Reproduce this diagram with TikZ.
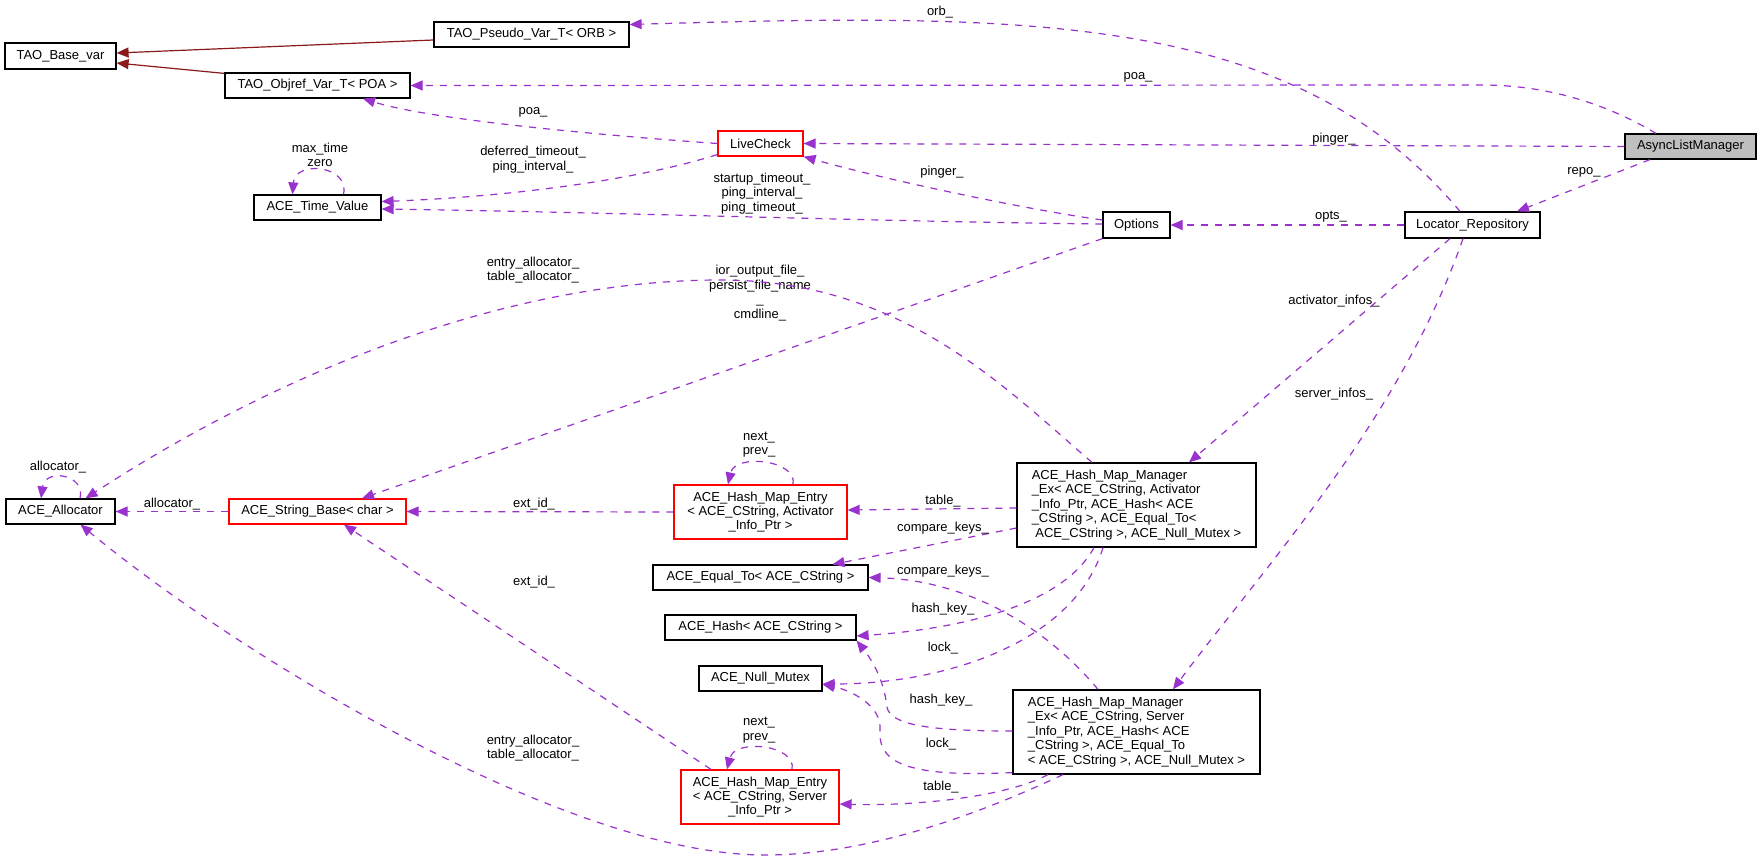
\documentclass[tikz,border=0pt]{standalone}
\usepackage{fontspec}
\setmainfont{Liberation Sans}
\usetikzlibrary{arrows.meta,calc}
\definecolor{edgec}{HTML}{9A32CD}
\definecolor{inhc}{HTML}{8B1A1A}
\definecolor{almfill}{HTML}{BFBFBF}
\newcommand\dfont{\fontsize{13}{14.5}\selectfont}
\begin{document}
\begin{tikzpicture}[x=1pt,y=-1pt]
\tikzset{
 cbox/.style={draw=black, line width=1.2pt, inner sep=0pt, font=\dfont},
 rbox/.style={cbox, draw=red},
 mem/.style={draw=edgec, line width=1.2pt, dash pattern=on 7pt off 7pt, -{Triangle[length=12pt,width=10pt]}},
 inh/.style={draw=inhc, line width=1.2pt, -{Triangle[length=12pt,width=10pt]}},
 elab/.style={font=\dfont, inner sep=0pt, align=center}
}
\fill[white] (0,0) rectangle (1761,862);
\useasboundingbox (0,0) rectangle (1761,862);

% nodes
\node[cbox, minimum width=111pt, minimum height=26pt] (base) at (60.5,56) {TAO\_Base\_var};
\node[cbox, minimum width=195pt, minimum height=25pt] (pseudo) at (531.5,34.5) {TAO\_Pseudo\_Var\_T< ORB >};
\node[cbox, minimum width=185pt, minimum height=25pt] (objref) at (317.5,85.5) {TAO\_Objref\_Var\_T< POA >};
\node[cbox, minimum width=127pt, minimum height=25pt] (timev) at (317.5,207.5) {ACE\_Time\_Value};
\node[rbox, minimum width=85pt, minimum height=25pt] (live) at (760.5,143.5) {LiveCheck};
\node[cbox, minimum width=67pt, minimum height=26pt] (opts) at (1136.5,225) {Options};
\node[cbox, minimum width=135pt, minimum height=26pt] (locrep) at (1472.5,225) {Locator\_Repository};
\node[cbox, fill=almfill, minimum width=131pt, minimum height=25pt] (alm) at (1690.5,146.5) {AsyncListManager};
\node[cbox, minimum width=239pt, minimum height=84pt, align=left] (hmma) at (1136.5,505) {ACE\_Hash\_Map\_Manager\\\_Ex< ACE\_CString, Activator\\\_Info\_Ptr, ACE\_Hash< ACE\\\_CString >, ACE\_Equal\_To<\\\hspace*{3.6pt}ACE\_CString >, ACE\_Null\_Mutex >};
\node[cbox, minimum width=247pt, minimum height=84pt, align=left] (hmms) at (1136.5,732) {ACE\_Hash\_Map\_Manager\\\_Ex< ACE\_CString, Server\\\_Info\_Ptr, ACE\_Hash< ACE\\\_CString >, ACE\_Equal\_To\\< ACE\_CString >, ACE\_Null\_Mutex >};
\node[rbox, minimum width=173pt, minimum height=54pt, align=center, font=\fontsize{13}{14}\selectfont] (hmea) at (760.5,512) {ACE\_Hash\_Map\_Entry\\< ACE\_CString, Activator\\\_Info\_Ptr >};
\node[rbox, minimum width=158pt, minimum height=54pt, align=center, font=\fontsize{13}{14}\selectfont] (hmes) at (760,797) {ACE\_Hash\_Map\_Entry\\< ACE\_CString, Server\\\_Info\_Ptr >};
\node[cbox, minimum width=215pt, minimum height=25pt] (equal) at (760.5,577.5) {ACE\_Equal\_To< ACE\_CString >};
\node[cbox, minimum width=191pt, minimum height=25pt] (hash) at (760.5,627.5) {ACE\_Hash< ACE\_CString >};
\node[cbox, minimum width=123pt, minimum height=25pt] (mutex) at (760.5,678.5) {ACE\_Null\_Mutex};
\node[cbox, minimum width=109pt, minimum height=25pt] (alloc) at (60.5,511.5) {ACE\_Allocator};
\node[rbox, minimum width=177pt, minimum height=25pt] (strb) at (317.5,511.5) {ACE\_String\_Base< char >};

% inheritance
\draw[inh] ($(pseudo.west)+(0,5.5)$) -- ($(base.east)+(0,-3)$);
\draw[inh] ($(objref.north west)+(0,1)$) -- ($(base.east)+(0,7)$);

% members
\draw[mem] ($(locrep.north)+(-12.5,0)$) .. controls (1293,12) and (1031,13) .. ($(pseudo.east)+(0,-10)$);
\node[elab] (l-orb) at (940,12) {orb\_};

\draw[mem] ($(alm.north)+(-34.5,0)$) .. controls (1600,100) and (1540,85) .. (1482,85) -- (objref.east);
\node[elab] (l-poa1) at (1138,77) {poa\_};

\draw[mem] (alm.west) -- (live.east);
\node[elab] (l-ping1) at (1334,139) {pinger\_};

\draw[mem] ($(alm.south)+(-40.5,0)$) -- ($(locrep.north)+(44.5,0)$);
\node[elab] (l-repo) at (1584,172) {repo\_};

\draw[mem] (locrep.west) -- (opts.east);
\node[elab] (l-opts) at (1331,217) {opts\_};

\draw[mem] ($(locrep.south)+(-22.5,0)$) -- ($(hmma.north)+(52.5,0)$);
\node[elab] (l-act) at (1334,301) {activator\_infos\_};

\draw[mem] ($(locrep.south)+(-9.5,0)$) .. controls (1400,420) and (1262,570) .. ($(hmms.north)+(36.5,0)$);
\node[elab] (l-srv) at (1334,394) {server\_infos\_};

\draw[mem] ($(opts.west)+(0,-5)$) .. controls (1023,209) and (883,179) .. (live.south east);
\node[elab] (l-ping2) at (942,172) {pinger\_};

\draw[mem] ($(opts.west)+(0,-1)$) .. controls (900,222) and (600,212) .. ($(timev.east)+(0,1.5)$);
\node[elab] (l-start) at (762,193.5) {startup\_timeout\_\\ping\_interval\_\\ping\_timeout\_};

\draw[mem] (opts.south west) -- ($(strb.north)+(44.5,0)$);
\node[elab] (l-ior) at (760,293) {ior\_output\_file\_\\persist\_file\_name\\\_\\cmdline\_};

\draw[mem] (live.west) .. controls (640,138) and (438,122) .. ($(objref.south)+(45.5,0)$);
\node[elab] (l-poa2) at (533,112) {poa\_};

\draw[mem] ($(live.south west)+(0,-2)$) .. controls (620,185) and (480,198) .. ($(timev.east)+(0,-6)$);
\node[elab] (l-def) at (533,159.5) {deferred\_timeout\_\\ping\_interval\_};

\draw[mem] ($(timev.north)+(26,0)$) .. controls (350,165) and (295,160) .. ($(timev.north)+(-25,0)$);
\node[elab] (l-tv) at (320,155) {max\_time\\zero};

\draw[mem] ($(hmma.west)+(0,3)$) -- ($(hmea.east)+(0,-2)$);
\node[elab] (l-tab1) at (943,501) {table\_};

\draw[mem] ($(hmma.west)+(0,23)$) -- ($(equal.north)+(72,0)$);
\node[elab] (l-cmp1) at (943,528) {compare\_keys\_};

\draw[mem] ($(hmma.south)+(-42.5,0)$) .. controls (1060,610) and (946,630) .. ($(hash.east)+(0,8.5)$);
\node[elab] (l-hk1) at (943,609) {hash\_key\_};

\draw[mem] ($(hmma.south)+(-33.5,0)$) .. controls (1075,640) and (950,684) .. ($(mutex.east)+(0,5.5)$);
\node[elab] (l-lk1) at (943,648) {lock\_};

\draw[mem] ($(hmma.north)+(-44.5,0)$) .. controls (1001,384) and (900,280) .. (720,280) .. controls (520,280) and (295,362) .. ($(alloc.north)+(25,0)$);
\node[elab] (l-ea1) at (533,270) {entry\_allocator\_\\table\_allocator\_};

\draw[mem] ($(hmms.north)+(-38.5,0)$) .. controls (1040,620) and (960,580) .. (equal.east);
\node[elab] (l-cmp2) at (943,571) {compare\_keys\_};

\draw[mem] ($(hmms.west)+(0,-1)$) .. controls (930,731) and (890,725) .. (887,707) .. controls (884,680) and (872,660) .. (hash.south east);
\node[elab] (l-hk2) at (941,700) {hash\_key\_};

\draw[mem] ($(hmms.south west)+(0,-2)$) .. controls (900,778) and (878,760) .. (880,730) .. controls (882,705) and (850,690) .. ($(mutex.east)+(0,6)$);
\node[elab] (l-lk2) at (941,744) {lock\_};

\draw[mem] ($(hmms.south)+(-88.5,0)$) .. controls (1000,800) and (900,806) .. ($(hmes.east)+(0,7)$);
\node[elab] (l-tab2) at (941,787) {table\_};

\draw[mem] ($(hmms.south)+(-73.5,0)$) .. controls (973,817) and (865,855) .. (765,855) .. controls (565,855) and (236,653) .. ($(alloc.south)+(20,0)$);
\node[elab] (l-ea2) at (533,748) {entry\_allocator\_\\table\_allocator\_};

\draw[mem] ($(hmes.north)+(32,0)$) .. controls (797,745) and (735,738) .. ($(hmes.north)+(-33,0)$);
\node[elab] (l-np2) at (759,730) {next\_\\prev\_};

\draw[mem] ($(hmea.north)+(32.5,0)$) .. controls (798,460) and (735,453) .. ($(hmea.north)+(-32.5,0)$);
\node[elab] (l-np1) at (759,444.5) {next\_\\prev\_};

\draw[mem] (hmea.west) -- (strb.east);
\node[elab] (l-ext1) at (534,504) {ext\_id\_};

\draw[mem] ($(hmes.north)+(-49,0)$) -- ($(strb.south)+(26.5,0)$);
\node[elab] (l-ext2) at (534,582) {ext\_id\_};

\draw[mem] (strb.west) -- (alloc.east);
\node[elab] (l-al) at (172,504) {allocator\_};

\draw[mem] ($(alloc.north)+(19.5,0)$) .. controls (86,474) and (45,468) .. ($(alloc.north)+(-19.5,0)$);
\node[elab] (l-al2) at (58,467) {allocator\_};
\end{tikzpicture}
\end{document}
